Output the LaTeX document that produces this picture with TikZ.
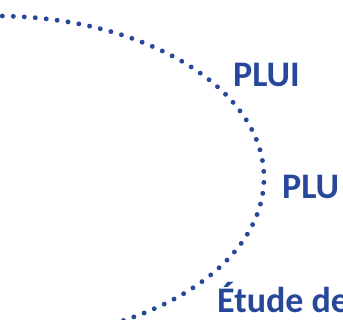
\documentclass[tikz,border=0pt]{standalone}
\usepackage{fontspec}
\setmainfont{Carlito}
\definecolor{plublue}{HTML}{27489A}
\begin{document}
\begin{tikzpicture}[x=1pt,y=1pt,
  dotline/.style={draw=plublue,line width=4.9pt,line cap=round,dash pattern=on 0pt off 11pt},
  lbl/.style={anchor=base west,inner sep=0pt,text=plublue,font=\fontsize{36}{36}\selectfont\bfseries}]
\useasboundingbox (0,0) rectangle (343,320);
\coordinate (ctr) at (-4,142);
\draw[dotline] (ctr) ++(91:268 and 162) arc[start angle=91,end angle=-110,x radius=268,y radius=162];
\node[lbl] (plui) at (233,233) {PLUI};
\node[lbl] (plu) at (282,121) {PLU};
\node[lbl] (etude) at (217,7) {Étude de};
\end{tikzpicture}
\end{document}
